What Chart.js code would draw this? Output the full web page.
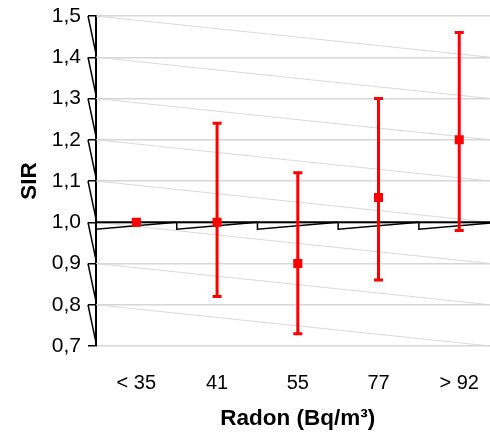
<!DOCTYPE html>
<html>
<head>
<meta charset="utf-8">
<script src="https://cdn.jsdelivr.net/npm/chart.js@4.4.1/dist/chart.umd.min.js"></script>
<style>
html,body{margin:0;padding:0;background:#fff;}
#wrap{width:490px;height:435px;overflow:hidden;position:relative;}
canvas{display:block;}
</style>
</head>
<body>
<div id="wrap"><canvas id="c" width="506" height="435"></canvas></div>
<script>
const categories = ['< 35', '41', '55', '77', '> 92'];
const sirValues = [1.00, 1.00, 0.90, 1.06, 1.20];
const lowerCI = [null, 0.82, 0.73, 0.86, 0.98];
const upperCI = [null, 1.24, 1.12, 1.30, 1.46];
const yTicks = [0.7, 0.8, 0.9, 1.0, 1.1, 1.2, 1.3, 1.4, 1.5];

const FONT = "'Liberation Sans', Arial, sans-serif";

const decoPlugin = {
  id: 'deco',
  beforeDatasetsDraw(chart) {
    const {ctx, chartArea, scales} = chart;
    const x = scales.x, y = scales.y;
    const L = chartArea.left, R = chartArea.right;
    const step = y.getPixelForValue(1.4) - y.getPixelForValue(1.5);
    ctx.save();
    // slanted light grid lines
    ctx.strokeStyle = '#d9d9d9';
    ctx.lineWidth = 1;
    yTicks.forEach(v => {
      if (v < 0.75) return;
      const y0 = y.getPixelForValue(v);
      const y1 = y0 + step * (R - L) / 394;
      ctx.beginPath();
      ctx.moveTo(L, y0);
      ctx.lineTo(R, y1);
      ctx.stroke();
    });
    // black 1.0 line
    const yb = y.getPixelForValue(1.0);
    ctx.strokeStyle = '#000';
    ctx.lineWidth = 2;
    ctx.beginPath();
    ctx.moveTo(L, yb);
    ctx.lineTo(R, yb);
    ctx.stroke();
    // zigzag along the 1.0 line
    ctx.lineWidth = 1.5;
    const cw = (R - L) / categories.length;
    for (let i = 0; i < categories.length; i++) {
      const xb = L + i * cw;
      ctx.beginPath();
      ctx.moveTo(xb, yb);
      ctx.lineTo(xb, yb + 7);
      ctx.lineTo(xb + cw, yb);
      ctx.stroke();
    }
    // triangles on y axis
    yTicks.forEach(v => {
      if (v < 0.75) return;
      const y0 = y.getPixelForValue(v);
      ctx.beginPath();
      ctx.moveTo(L - 8, y0);
      ctx.lineTo(L, y0 + step * 0.92);
      ctx.stroke();
    });
    // error bars
    ctx.strokeStyle = '#ff0000';
    ctx.lineWidth = 3;
    for (let i = 0; i < categories.length; i++) {
      if (lowerCI[i] == null) continue;
      const xc = x.getPixelForValue(i);
      const yl = y.getPixelForValue(lowerCI[i]);
      const yu = y.getPixelForValue(upperCI[i]);
      ctx.beginPath();
      ctx.moveTo(xc, yl);
      ctx.lineTo(xc, yu);
      ctx.stroke();
      ctx.beginPath();
      ctx.moveTo(xc - 4.5, yl);
      ctx.lineTo(xc + 4.5, yl);
      ctx.moveTo(xc - 4.5, yu);
      ctx.lineTo(xc + 4.5, yu);
      ctx.stroke();
    }
    ctx.restore();
  }
};

new Chart(document.getElementById('c'), {
  type: 'line',
  data: {
    labels: categories,
    datasets: [{
      data: sirValues,
      showLine: false,
      pointStyle: 'rect',
      pointRadius: 6.4,
      pointHoverRadius: 6.4,
      pointBackgroundColor: '#ff0000',
      pointBorderWidth: 0,
      borderColor: '#ff0000'
    }]
  },
  options: {
    responsive: false,
    animation: false,
    events: [],
    layout: {padding: {top: 16, right: 0, left: 0, bottom: 0}},
    plugins: {legend: {display: false}, tooltip: {enabled: false}},
    scales: {
      x: {
        type: 'category',
        offset: true,
        grid: {display: false},
        border: {display: false},
        ticks: {
          color: '#000',
          font: {family: FONT, size: 20},
          padding: 17,
          maxRotation: 0,
          autoSkip: false
        },
        title: {
          display: true,
          text: 'Radon (Bq/m³)',
          color: '#000',
          font: {family: FONT, size: 22.5, weight: 'bold'},
          padding: {top: 3, bottom: 3}
        },
        afterFit(s) { s.height = 89; s.paddingLeft = 0; s.paddingRight = 0; }
      },
      y: {
        min: 0.7,
        max: 1.5,
        afterBuildTicks(s) { s.ticks = yTicks.map(v => ({value: v})); },
        grid: {
          color: '#d6d6d6',
          lineWidth: 1.5,
          tickColor: '#000',
          tickLength: 8,
          tickWidth: 1.5
        },
        border: {display: true, color: '#000', width: 2},
        ticks: {
          color: '#000',
          font: {family: FONT, size: 21},
          padding: 7,
          callback: v => Number(v).toFixed(1).replace('.', ',')
        },
        title: {
          display: true,
          text: 'SIR',
          color: '#000',
          font: {family: FONT, size: 22.5, weight: 'bold'},
          padding: {top: 16, bottom: 16}
        },
        afterFit(s) { s.width = 96; s.paddingTop = 0; s.paddingBottom = 0; }
      }
    }
  },
  plugins: [decoPlugin]
});
</script>
</body>
</html>
